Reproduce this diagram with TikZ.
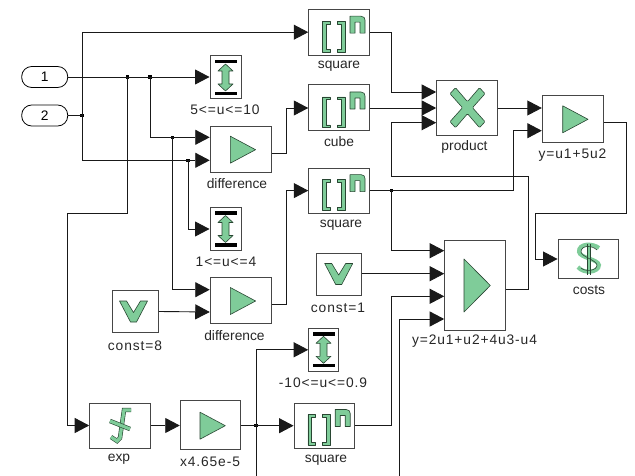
\documentclass[tikz,border=0pt]{standalone}
\usepackage{tikz}
\usepackage{xcolor}
\usepackage{fontspec}
\setmainfont{Liberation Sans}
\usetikzlibrary{arrows.meta}
\definecolor{icongreen}{RGB}{127,204,153}
\definecolor{iconedge}{RGB}{40,70,50}
\definecolor{boxedge}{RGB}{70,70,70}
\tikzset{
  blockbox/.style={draw=boxedge, fill=white, line width=1pt, inner sep=0pt, rectangle},
  blocklabel/.style={inner sep=0pt, text=black!85, font=\fontsize{13.8}{15}\selectfont},
  widelabel/.style={blocklabel, font=\fontsize{13.8}{15}\selectfont\addfontfeatures{LetterSpace=6.5}},
  portbox/.style={draw=black, fill=white, line width=0.8pt, rounded corners=10pt, inner sep=0pt,
    minimum width=46pt, minimum height=21pt, font=\fontsize{13.8}{15}\selectfont},
  wire/.style={black!90, line width=0.9pt},
  feed/.style={wire, -{Triangle[length=14.5pt,width=15pt]}},
  dotjoin/.style={fill=black, inner sep=0pt, minimum size=3.2pt, rectangle},
  iconfill/.style={fill=icongreen, draw=iconedge, line width=0.6pt, line join=round},
  gainicon/.pic={\path[iconfill] (-10.5,-13.5) -- (14.8,0) -- (-10.5,13.5) -- cycle;},
  biggain/.pic={\path[iconfill] (-13,-26.5) -- (13.3,0) -- (-13,26.5) -- cycle;},
  powericon/.pic={
    \path[iconfill] (-9,-11) -- (-16.3,-11) -- (-16.3,19.7) -- (-9,19.7) -- (-9,17) -- (-12.5,17) -- (-12.5,-8.3) -- (-9,-8.3) -- cycle;
    \path[iconfill] (-1.7,-11) -- (6,-11) -- (6,19.7) -- (-1.7,19.7) -- (-1.7,17) -- (2.2,17) -- (2.2,-8.3) -- (-1.7,-8.3) -- cycle;
    \path[iconfill] (11,1) -- (11,-16) -- (22,-16) .. controls (25,-16) and (26,-14) .. (26,-12) -- (26,1) -- (21,1) -- (21,-10) -- (16,-10) -- (16,1) -- cycle;},
  limiticon/.pic={
    \fill[black] (-11,-17.5) rectangle (11,-14.2);
    \fill[black] (-11,14.2) rectangle (11,17.5);
    \path[iconfill] (0,-13.5) -- (7.5,-6.5) -- (3.5,-6.5) -- (3.5,6.5) -- (7.5,6.5) -- (0,13.5) -- (-7.5,6.5) -- (-3.5,6.5) -- (-3.5,-6.5) -- (-7.5,-6.5) -- cycle;},
  consticon/.pic={\path[iconfill] (-14,-10.5) -- (-7,-10.5) -- (0,1) -- (7,-10.5) -- (14,-10.5) -- (3,10.5) -- (-3,10.5) -- cycle;},
}
\begin{document}
\begin{tikzpicture}[x=1pt,y=-1pt]
        \useasboundingbox (0,0) rectangle (635,476);
        % inports
        \node [portbox] (inone) at (44.7,77) {1};
        \node [portbox] (intwo) at (44.7,115.5) {2};
        % blocks
        \node [blockbox, minimum width=60.5pt, minimum height=45.7pt] (squareA) at (339,32.2) {};
        \node [blockbox, minimum width=60.5pt, minimum height=46pt] (cube) at (339,108) {};
        \node [blockbox, minimum width=60.5pt, minimum height=45pt] (squareB) at (339,190.6) {};
        \node [blockbox, minimum width=31pt, minimum height=43pt] (limitA) at (225.5,77.5) {};
        \node [blockbox, minimum width=61.5pt, minimum height=46pt] (diffA) at (241,149.7) {};
        \node [blockbox, minimum width=31pt, minimum height=42.6pt] (limitB) at (225.5,229) {};
        \node [blockbox, minimum width=61.5pt, minimum height=46pt] (diffB) at (241,300.3) {};
        \node [blockbox, minimum width=45.6pt, minimum height=41.6pt] (consteight) at (135.5,311.5) {};
        \node [blockbox, minimum width=60.6pt, minimum height=45pt] (expblock) at (120,425.5) {};
        \node [blockbox, minimum width=60.7pt, minimum height=48.6pt] (scaler) at (210.6,425) {};
        \node [blockbox, minimum width=29.6pt, minimum height=43pt] (limitC) at (323.5,349.8) {};
        \node [blockbox, minimum width=60.3pt, minimum height=45pt] (squareC) at (324.2,425.5) {};
        \node [blockbox, minimum width=44.6pt, minimum height=42.3pt] (constone) at (339,274.2) {};
        \node [blockbox, minimum width=60.6pt, minimum height=54.6pt] (product) at (467,108) {};
        \node [blockbox, minimum width=61.4pt, minimum height=47pt] (sumtop) at (573,119.2) {};
        \node [blockbox, minimum width=60.6pt, minimum height=89.6pt] (sumbig) at (475,285.5) {};
        \node [blockbox, minimum width=60.3pt, minimum height=38.6pt] (costs) at (588.2,259) {};
        % labels
        \node [blocklabel] (squareAtxt) at (339,66) {square};
        \node [blocklabel] (cubetxt) at (339,142) {cube};
        \node [blocklabel] (squareBtxt) at (341,225) {square};
        \node [widelabel] (limitAtxt) at (225,110) {5<=u<=10};
        \node [blocklabel] (diffAtxt) at (237,184) {difference};
        \node [widelabel] (limitBtxt) at (226,261.5) {1<=u<=4};
        \node [blocklabel] (diffBtxt) at (234.5,336) {difference};
        \node [widelabel] (consteighttxt) at (135,345.5) {const=8};
        \node [blocklabel] (exptxt) at (119,459.5) {exp};
        \node [widelabel] (scalertxt) at (210,461.5) {x4.65e-5};
        \node [widelabel] (limitCtxt) at (323,382.5) {-10<=u<=0.9};
        \node [blocklabel] (squareCtxt) at (326,460) {square};
        \node [widelabel] (constonetxt) at (338,308) {const=1};
        \node [blocklabel] (producttxt) at (464.5,146.5) {product};
        \node [widelabel] (sumtoptxt) at (572.5,155) {y=u1+5u2};
        \node [widelabel] (sumbigtxt) at (474.5,341.5) {y=2u1+u2+4u3-u4};
        \node [blocklabel] (coststxt) at (589,290.5) {costs};
        % icons
        \pic at (339,32.2) {powericon};
        \pic at (339,108) {powericon};
        \pic at (339,190.6) {powericon};
        \pic at (324.2,425.5) {powericon};
        \pic at (225.5,77.5) {limiticon};
        \pic at (225.5,229) {limiticon};
        \pic at (323.5,349.8) {limiticon};
        \pic at (240.8,149.7) {gainicon};
        \pic at (240.8,301) {gainicon};
        \pic at (210.5,425.7) {gainicon};
        \pic at (573.2,119.3) {gainicon};
        \pic at (477,285.5) {biggain};
        \pic at (133.5,311.5) {consticon};
        \pic at (338.7,274) {consticon};
        \path [iconfill, rounded corners=1pt] (467.5,107.7) ++(-17.5,-14) -- ++(5.5,-6) -- ++(12,14) -- ++(12,-14) -- ++(5.5,6) -- ++(-12.5,14) -- ++(12.5,14) -- ++(-5.5,6) -- ++(-12,-14) -- ++(-12,14) -- ++(-5.5,-6) -- ++(12.5,-14) -- cycle;
        \draw [draw=iconedge, double=icongreen, double distance=3.2pt, line width=0.6pt] (131,410) -- (124,410) -- (120,438) -- (117,441) -- (111,437);
        \draw [draw=iconedge, double=icongreen, double distance=3.2pt, line width=0.6pt] (110,421) -- (130,429);
        \fill [icongreen] (586.9,244) rectangle (590.3,274);
        \draw [icongreen, line width=4pt] (599,248) .. controls (593,243) and (578,243) .. (579,252) .. controls (580,258) and (598,259) .. (599,265) .. controls (599,273) and (583,274) .. (578,267);
        \draw [iconedge, line width=0.6pt] (597,250) .. controls (592,245) and (581,245) .. (581,252) .. controls (582,257) and (596,260) .. (597,265) .. controls (597,271) and (585,272) .. (581,268);
        \draw [iconedge, line width=0.6pt] (586.9,243.5) -- (586.9,274.5) (590.3,243.5) -- (590.3,274.5);
        % port points
        \coordinate (diffAin) at (diffA.west |- 0,137.3);
        \coordinate (diffAinb) at (diffA.west |- 0,160.3);
        \coordinate (diffBin) at (diffB.west |- 0,289.7);
        \coordinate (diffBinb) at (diffB.west |- 0,312);
        \coordinate (prodina) at (product.west |- 0,92);
        \coordinate (prodinc) at (product.west |- 0,122.7);
        \coordinate (sumtopina) at (sumtop.west |- 0,108);
        \coordinate (sumtopinb) at (sumtop.west |- 0,130.7);
        \coordinate (sumtopout) at (sumtop.east |- 0,122.7);
        \coordinate (biginA) at (sumbig.west |- 0,250.7);
        \coordinate (biginB) at (sumbig.west |- 0,273.7);
        \coordinate (biginC) at (sumbig.west |- 0,296.3);
        \coordinate (biginD) at (sumbig.west |- 0,319);
        \coordinate (bigout) at (sumbig.east |- 0,289.3);
        \coordinate (diffAout) at (diffA.east |- 0,153.5);
        \coordinate (diffBout) at (diffB.east |- 0,304.3);
        \coordinate (bottomA) at (256,476);
        \coordinate (bottomB) at (399.3,476);
        % junctions
        \node [dotjoin] (jone) at (127.3,77) {};
        \node [dotjoin] (jtwo) at (150,77) {};
        \node [dotjoin] (jthree) at (82,115.5) {};
        \node [dotjoin] (jfour) at (172.7,137.3) {};
        \node [dotjoin] (jfive) at (188,160.3) {};
        \node [dotjoin] (jsix) at (256,425.7) {};
        \node [dotjoin] (jseven) at (391.7,190.6) {};
        % connectors
        \draw [feed] (inone.east) -- (limitA.west |- inone.east);
        \draw [wire] (intwo.east) -- (jthree.center);
        \draw [feed] (jthree.center) |- (squareA.west);
        \draw [feed] (jthree.center) |- (diffAinb);
        \draw [feed] (jfive.center) |- (limitB.west);
        \draw [feed] (jtwo.center) |- (diffAin);
        \draw [feed] (jfour.center) |- (diffBin);
        \draw [feed] (jone.center) |- (67.7,213.3) |- (expblock.west);
        \draw [feed] (diffAout) -- (286,153.5) |- (cube.west);
        \draw [feed] (diffBout) -- (286,304.3) |- (squareB.west);
        \draw [feed] (consteight.east) -- (diffBinb);
        \draw [feed] (expblock.east) -- (scaler.west |- expblock.east);
        \draw [wire] (scaler.east |- jsix.center) -- (jsix.center);
        \draw [feed] (jsix.center) -- (squareC.west |- jsix.center);
        \draw [feed] (jsix.center) |- (limitC.west);
        \draw [wire] (jsix.center) -- (bottomA);
        \draw [feed] (squareA.east) -- (391.7,32.2) |- (prodina);
        \draw [feed] (cube.east) -- (product.west);
        \draw [feed] (bigout) -- (528,289.3) |- (391.7,176) |- (prodinc);
        \draw [feed] (product.east) -- (sumtopina);
        \draw [feed] (squareB.east) -- (513.3,190.6) |- (sumtopinb);
        \draw [feed] (jseven.center) |- (biginA);
        \draw [feed] (sumtopout) -- (626.7,122.7) |- (535.7,213.3) |- (costs.west);
        \draw [feed] (constone.east |- biginB) -- (biginB);
        \draw [feed] (squareC.east) -- (391.7,425.5) |- (biginC);
        \draw [feed] (bottomB) |- (biginD);
\end{tikzpicture}
\end{document}
